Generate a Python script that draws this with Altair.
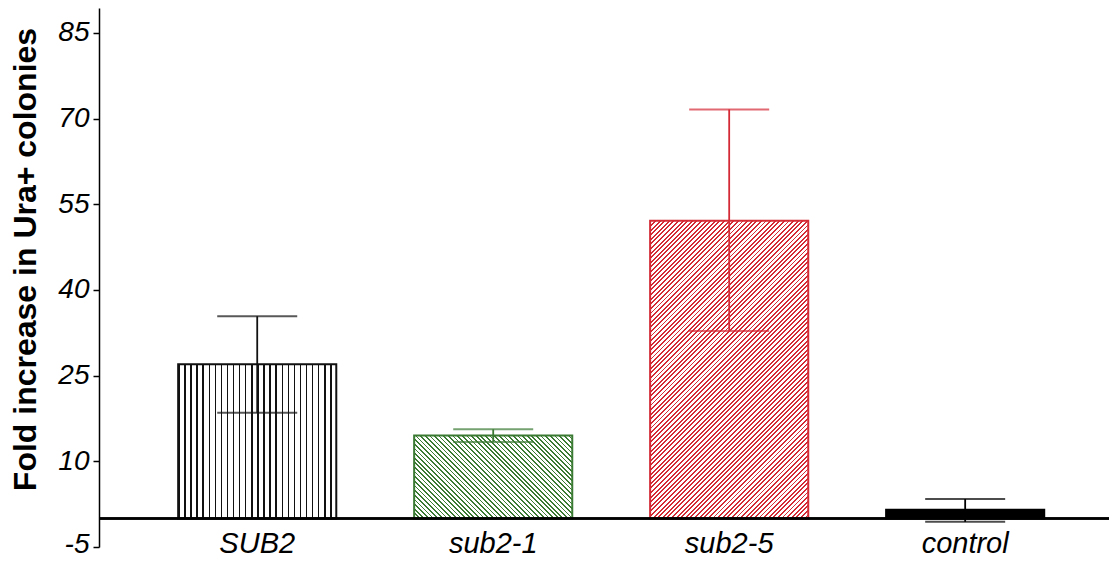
import math
import altair as alt
import pandas as pd

# ---- data ----
categories = ["SUB2", "sub2-1", "sub2-5", "control"]
means = [27.0, 14.5, 52.1, 1.5]
err_high = [35.4, 15.6, 71.6, 3.4]
err_low = [18.5, 13.4, 32.8, -0.6]
y_ticks = [-5, 10, 25, 40, 55, 70, 85]

# ---- styles ----
colors = ["#111111", "#3a7a33", "#d42a35", "#000000"]
hatch = ["vertical", "back", "forward", "solid"]
hatch_period = [6.1, 4.6, 4.6, 0]
hatch_line = [1.4, 1.7, 1.9, 0]

W, H = 1010, 539
YMIN, YMAX = -5, 89.35
P_IN, P_OUT, ALIGN = 0.33, 0.305, 0.55
FONT = "Liberation Sans"

df = pd.DataFrame({"cat": categories, "mean": means, "lo": err_low, "hi": err_high})

step = W / (len(categories) - P_IN + 2 * P_OUT)
bar_w = step * (1 - P_IN)
px_per_unit = H / (YMAX - YMIN)


def stripe_stops(color, n, frac):
    stops = []
    for k in range(n):
        o0 = k / n
        o1 = min(1.0, o0 + frac)
        o2 = (k + 1) / n
        stops += [
            {"offset": round(o0, 5), "color": color},
            {"offset": round(o1, 5), "color": color},
            {"offset": round(o1, 5), "color": "white"},
            {"offset": round(o2, 5), "color": "white"},
        ]
    return stops


def make_fill(kind, color, w, h, period, lw):
    if kind == "solid":
        return color
    if kind == "vertical":
        n = max(1, round(w / period))
        return {"gradient": "linear", "x1": 0, "y1": 0, "x2": 1, "y2": 0,
                "stops": stripe_stops(color, n, lw / w)}
    L = w + h
    n = max(1, round(L / period))
    a = w / L
    if kind == "forward":  # lines like "/"
        b = h / L
        s = a * a + b * b
        x1, y1, x2, y2 = 0, 0, a / s, b / s
    else:  # lines like "\"
        b = -h / L
        s = a * a + b * b
        x1, y1, x2, y2 = 0, 1, a / s, 1 + b / s
    return {"gradient": "linear", "x1": x1, "y1": y1, "x2": x2, "y2": y2,
            "stops": stripe_stops(color, n, lw / L)}


x_enc = alt.X(
    "cat:N",
    sort=categories,
    scale=alt.Scale(domain=categories, paddingInner=P_IN, paddingOuter=P_OUT, align=ALIGN),
    axis=alt.Axis(title=None, domain=False, ticks=False, tickSize=0, labelAngle=0,
                  labelFont=FONT, labelFontStyle="italic", labelFontSize=29,
                  labelColor="black", labelBaseline="alphabetic", labelPadding=5),
)

y_scale = alt.Scale(domain=[YMIN, YMAX], nice=False, zero=False)
y_axis = alt.Axis(
    values=y_ticks, grid=False, title="Fold increase in Ura+ colonies",
    labelExpr="'' + datum.value",
    labelOffset={"condition": {"test": "datum.value == -5", "value": -3}, "value": 0},
    domainColor="black", domainWidth=1.5, tickColor="black", tickWidth=1.5, tickSize=6,
    labelFont=FONT, labelFontStyle="italic", labelFontSize=28, labelColor="black",
    labelPadding=4,
    titleFont=FONT, titleFontWeight="bold", titleFontSize=32, titleColor="black",
    titleAngle=-90, titleX=-74, titleY=251, titleBaseline="middle", titleAlign="center",
)

color_enc = alt.Color("cat:N", scale=alt.Scale(domain=categories, range=colors), legend=None)

layers = []
for i, cat in enumerate(categories):
    h = means[i] * px_per_unit
    fill = make_fill(hatch[i], colors[i], bar_w, h, hatch_period[i], hatch_line[i])
    layers.append(
        alt.Chart(df)
        .transform_filter(alt.datum.cat == cat)
        .mark_bar(fill=fill, stroke=colors[i], strokeWidth=2)
        .encode(x=x_enc, y=alt.Y("mean:Q", scale=y_scale, axis=y_axis))
    )

rules = alt.Chart(df).mark_rule(strokeWidth=1.8).encode(
    x=x_enc, y=alt.Y("lo:Q", scale=y_scale, axis=y_axis), y2="hi:Q", color=color_enc
)
caps_hi = alt.Chart(df).mark_tick(size=80, thickness=2).encode(
    x=x_enc, y=alt.Y("hi:Q", scale=y_scale, axis=y_axis), color=color_enc
)
caps_lo = alt.Chart(df).mark_tick(size=80, thickness=2).encode(
    x=x_enc, y=alt.Y("lo:Q", scale=y_scale, axis=y_axis), color=color_enc
)
zero = alt.Chart(df).mark_rule(color="black", strokeWidth=2).encode(y=alt.datum(0))

chart = (
    alt.layer(*layers, rules, caps_hi, caps_lo, zero)
    .properties(width=W, height=H, autosize=alt.AutoSizeParams(type="none"),
                padding={"left": 91, "top": 0, "right": 0, "bottom": 20})
    .configure_view(stroke=None)
)

chart.save("out.html", embed_options={"renderer": "svg", "actions": False})
